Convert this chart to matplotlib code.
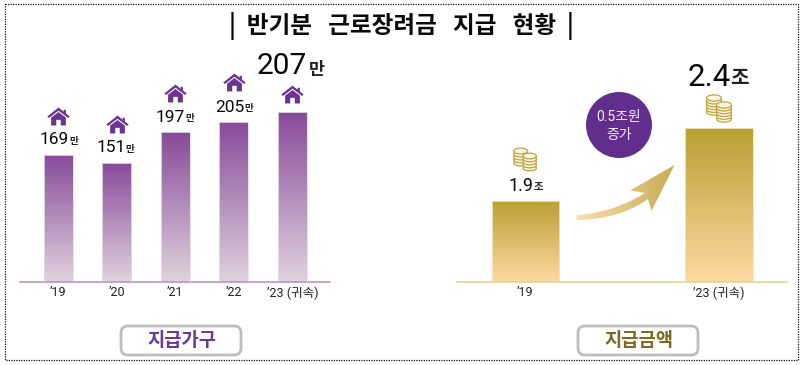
import numpy as np
import matplotlib
matplotlib.use("Agg")
import matplotlib.pyplot as plt
from matplotlib.colors import LinearSegmentedColormap
from matplotlib.patches import Rectangle, FancyBboxPatch, Circle, Ellipse, PathPatch
from matplotlib.path import Path

plt.rcParams['font.family'] = ['Noto Sans CJK KR', 'DejaVu Sans']
NUM_FONT = ['Roboto', 'Noto Sans CJK KR']

W, H = 802, 365
TITLE = "|  반기분   근로장려금   지급   현황  |"

hh_years = ["’19", "’20", "’21", "’22", "’23 (귀속)"]
hh_values = [169, 151, 197, 205, 207]          # 만 가구 (labels)
hh_heights = [127, 119, 150, 160.5, 170.5]     # drawn heights

amt_years = ["’19", "’23 (귀속)"]
amt_values = [1.9, 2.4]                        # 조 (labels)
amt_heights = [81, 154]                        # drawn heights

BASE_PX = 282
fig = plt.figure(figsize=(W / 100, H / 100), dpi=100, facecolor="white")


def make_axes(x0, x1, top_px=82):
    ax = fig.add_axes([x0 / W, 1 - BASE_PX / H, (x1 - x0) / W, (BASE_PX - top_px) / H])
    ax.patch.set_alpha(0)
    for s in ("top", "left", "right"):
        ax.spines[s].set_visible(False)
    ax.set_yticks([])
    ax.set_ylim(0, BASE_PX - top_px)
    return ax


def gradient_bars(ax, xs, heights, width, top, bottom, edge):
    cmap = LinearSegmentedColormap.from_list("g", [bottom, top])
    bars = ax.bar(xs, heights, width=width, color="none", edgecolor=edge, linewidth=0.6, zorder=3)
    for b in bars:
        g = np.linspace(1, 0, 256).reshape(-1, 1)
        im = ax.imshow(g, cmap=cmap, aspect="auto", zorder=2, vmin=0, vmax=1,
                       extent=[b.get_x(), b.get_x() + b.get_width(), 0, b.get_height()])
        im.set_clip_path(b)


def label(ax, x, y, num, unit, nsize, usize, dx, dy, udx, udy):
    ax.annotate(num, xy=(x, y), xytext=(dx, dy), textcoords="offset pixels", ha="right", va="center",
                fontsize=nsize, color="#0A0A0A", annotation_clip=False, zorder=6, family=NUM_FONT)
    ax.annotate(unit, xy=(x, y), xytext=(dx + udx, dy + udy), textcoords="offset pixels", ha="left", va="center",
                fontsize=usize, color="#222222", annotation_clip=False, zorder=6, fontweight="bold")


def style_ticks(ax, xs, labels, color):
    ax.set_xticks(xs, labels, fontsize=9, color="#222222", family=NUM_FONT)
    ax.tick_params(axis="x", length=0, pad=3)
    ax.spines["bottom"].set_color(color)
    ax.spines["bottom"].set_linewidth(1.1)


# ---- left chart ----
pitch = 58.5
first = 58.3
axl = make_axes(20, 330)
xl = np.arange(len(hh_years))
gradient_bars(axl, xl, hh_heights, 29 / pitch, "#884A9A", "#DFD3DD", "#E6DCEA")
axl.set_xlim((20 - first) / pitch, (330 - first) / pitch)
axl.set_ylim(0, BASE_PX - 82)
style_ticks(axl, xl, hh_years, "#B98CC4")

house = Path(
    [(-1, 0), (0, .8), (.46, .43), (.46, .6), (.66, .6), (.66, .27), (1, 0), (.85, -.13), (0, .52), (-.85, -.13), (-1, 0),
     (-.66, -.1), (0, .4), (.66, -.1), (.66, -.8), (.2, -.8), (.2, -.3), (-.2, -.3), (-.2, -.8), (-.66, -.8), (-.66, -.1)],
    [1, 2, 2, 2, 2, 2, 2, 2, 2, 2, 79, 1, 2, 2, 2, 2, 2, 2, 2, 2, 79])
house_gap = [39, 39, 39, 39.5, 18]
axl.scatter(xl, np.array(hh_heights) + np.array(house_gap), marker=house, s=260,
            color="#6A3591", linewidths=0, zorder=5, clip_on=False)

num_dx = [11, 9, 10, 11]
num_dy = [15, 15, 14.5, 14.5]
for i in range(4):
    label(axl, xl[i], hh_heights[i], str(hh_values[i]), "만", 12.5, 7, num_dx[i], num_dy[i], 0, -1)
label(axl, xl[4], hh_heights[4], str(hh_values[4]), "만", 21.5, 12.5, 15, 45, 1.5, -4)

# ---- right chart ----
c0, c1 = 525.5, 719
apitch = c1 - c0
axr = make_axes(457, 787)
xr = np.arange(len(amt_years))
gradient_bars(axr, xr, amt_heights, 67.7 / apitch, "#BA9F33", "#FFD9A2", "#F3E6C6")
axr.set_xlim((457 - c0) / apitch, (787 - c0) / apitch)
axr.set_ylim(0, BASE_PX - 82)
style_ticks(axr, xr, amt_years, "#E3CF8F")
label(axr, xr[0], amt_heights[0], f"{amt_values[0]}", "조", 13, 7.5, 8, 15, 0, -1)
label(axr, xr[1], amt_heights[1], f"{amt_values[1]}", "조", 22.5, 14.5, 11.5, 51, 0, -1)

# ---- overlay in pixel coordinates ----
ov = fig.add_axes([0, 0, 1, 1], zorder=10)
ov.set_xlim(0, W)
ov.set_ylim(H, 0)
ov.axis("off")
ov.patch.set_alpha(0)

ov.add_patch(Rectangle((5, 4), 793, 356, fill=False, ec="#111111", lw=0.9, ls=(0, (1, 1))))
ov.text(401.5, 26.5, TITLE, ha="center", va="center", fontsize=17, fontweight="bold", color="#0A0A0A")


def coin_stack(cx, top, bottom, w, n):
    ys = np.linspace(bottom, top, n)
    for y in ys:
        ov.add_patch(Ellipse((cx, y), w, w * 0.42, fc="#FBF7E4", ec="#BFA443", lw=0.9))


coin_stack(520.7, 151, 163, 14, 5)
coin_stack(529.7, 156, 168, 13.5, 5)
coin_stack(714, 98, 112, 15, 6)
coin_stack(724, 105, 119, 15, 6)

ov.add_patch(Circle((619, 125), 33, fc="#622E8C", ec="none"))
ov.text(619, 117.5, "0.5조원", ha="center", va="center", fontsize=10, color="#F2EAF5", family=NUM_FONT)
ov.text(619, 135, "증가", ha="center", va="center", fontsize=10, color="#F2EAF5")

# curved arrow with gradient
M, L, C, Z = Path.MOVETO, Path.LINETO, Path.CURVE3, Path.CLOSEPOLY
arrow = Path(
    [(578, 215), (615, 212), (645, 193), (630, 190.5), (674.5, 165), (651.5, 211), (648, 199),
     (620, 219), (578, 220), (574.5, 217.5), (578, 215), (578, 215)],
    [M, C, C, L, L, L, L, C, C, C, C, Z])
patch = PathPatch(arrow, fc="none", ec="none")
ov.add_patch(patch)
cm = LinearSegmentedColormap.from_list("a", ["#FBDFB0", "#C8AC55"])
grad = np.linspace(0, 1, 200).reshape(1, -1)
im = ov.imshow(grad, cmap=cm, extent=[574, 675, 222, 164], aspect="auto", zorder=3)
im.set_clip_path(patch)
ov.set_xlim(0, W)
ov.set_ylim(H, 0)

for x0, txt, col in [(121, "지급가구", "#6A3A96"), (578, "지급금액", "#7D6A20")]:
    ov.add_patch(FancyBboxPatch((x0, 326), 120, 29, boxstyle="round,pad=0,rounding_size=7",
                                fc="white", ec="#BDBDBD", lw=2.0))
    ov.text(x0 + 60.5, 340, txt, ha="center", va="center", fontsize=13.5, fontweight="bold", color=col)

fig.savefig("out.png", dpi=100, facecolor="white")
